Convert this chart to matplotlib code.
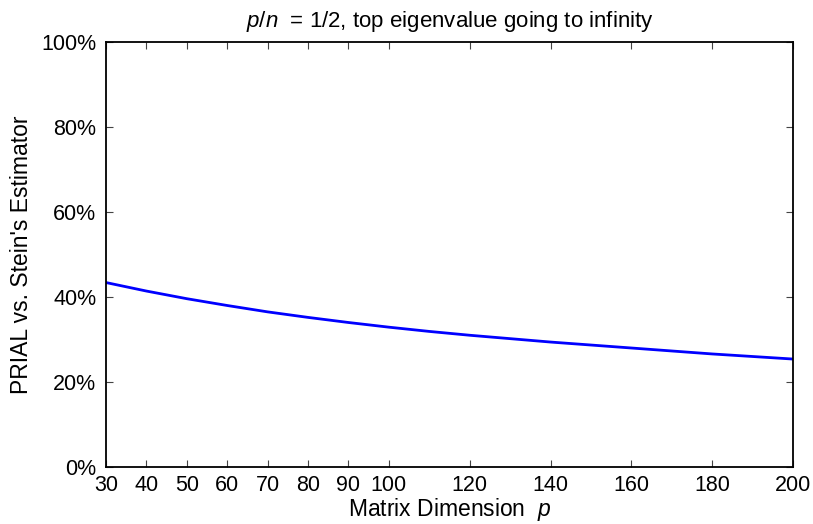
import matplotlib
matplotlib.use('Agg')
import matplotlib.pyplot as plt

plt.rcParams['font.family'] = 'Liberation Sans'
plt.rcParams['mathtext.fontset'] = 'custom'
plt.rcParams['mathtext.rm'] = 'Liberation Sans'
plt.rcParams['mathtext.it'] = 'Liberation Sans:italic'

# Data #########################################################################
dims = [30, 40, 50, 60, 70, 80, 90, 100, 110, 120, 130, 140, 150, 160, 170, 180, 190, 200]
prial = [43.4, 41.4, 39.6, 38.0, 36.5, 35.2, 34.0, 32.9, 31.9, 31.0, 30.2, 29.4,
         28.7, 28.0, 27.3, 26.6, 26.0, 25.4]
xticks = [30, 40, 50, 60, 70, 80, 90, 100, 120, 140, 160, 180, 200]
yticks = [0, 20, 40, 60, 80, 100]
ylabels = ['0%', '20%', '40%', '60%', '80%', '100%']

# Plot #########################################################################
fig = plt.figure(figsize=(8.13, 5.24), dpi=100)
ax = fig.add_axes([0.1304, 0.1088, 0.845, 0.811])

ax.plot(dims, prial, color='#0000ff', linewidth=2.0)

ax.set_xlim(30, 200)
ax.set_ylim(0, 100)
ax.set_xticks(xticks)
ax.set_xticklabels([str(t) for t in xticks])
ax.set_yticks(yticks)
ax.set_yticklabels(ylabels)
ax.tick_params(direction='in', length=5, width=0.8, color='#444444',
               top=True, right=True, labelsize=15.5)
ax.tick_params(axis='x', pad=6)
ax.tick_params(axis='y', pad=7)
for s in ax.spines.values():
	s.set_linewidth(1.3)

ax.set_xlabel('Matrix Dimension  $p$', fontsize=16.5, labelpad=0)
ax.set_ylabel("PRIAL vs. Stein's Estimator", fontsize=16.5, labelpad=6)
ax.set_title('$p/n$  = 1/2, top eigenvalue going to infinity', fontsize=16, pad=11)

fig.savefig('out.png', dpi=100)
